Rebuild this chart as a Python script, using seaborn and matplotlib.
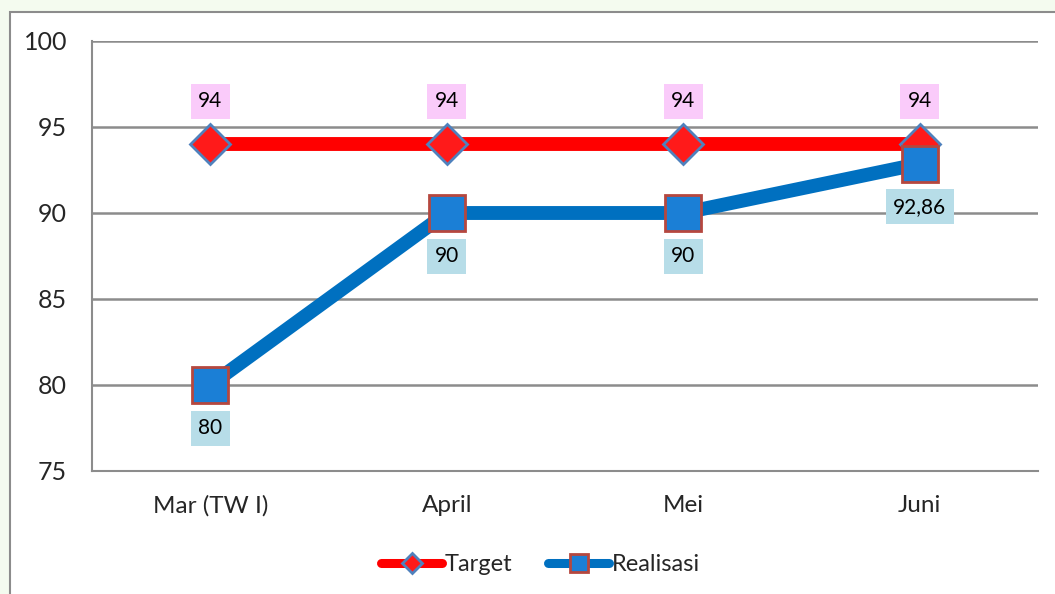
import pandas as pd
import seaborn as sns
import matplotlib.pyplot as plt
from matplotlib.patches import Rectangle

# data
bulan = ['Mar (TW I)', 'April', 'Mei', 'Juni']
target = [94, 94, 94, 94]
realisasi = [80, 90, 90, 92.86]
label_target = ['94', '94', '94', '94']
label_realisasi = ['80', '90', '90', '92,86']

df = pd.DataFrame({'bulan': bulan, 'Target': target, 'Realisasi': realisasi})

sns.set_style('white')
plt.rcParams['font.family'] = ['Lato', 'DejaVu Sans']

fig = plt.figure(figsize=(10.55, 5.94), dpi=100, facecolor='#f4fbef')
# white chart area with grey frame
fig.patches.append(Rectangle((10 / 1055, -0.1), 1.2, 1 - 12 / 594 + 0.1,
                             transform=fig.transFigure, facecolor='white',
                             edgecolor='#8c8c8c', linewidth=1.5, zorder=-5))
ax = fig.add_axes([92 / 1055, 1 - 471 / 594, (1038 - 92) / 1055, (471 - 41) / 594])
ax.set_zorder(2)
ax.set_facecolor('none')

sns.lineplot(data=df, x='bulan', y='Target', ax=ax, color='#ff0000', linewidth=10,
             marker='D', markersize=20, markerfacecolor='#ff1a1a',
             markeredgecolor='#4f81bd', markeredgewidth=2, label='Target',
             solid_capstyle='round', zorder=3)
sns.lineplot(data=df, x='bulan', y='Realisasi', ax=ax, color='#0070c0', linewidth=10,
             marker='s', markersize=26, markerfacecolor='#1b7fd6',
             markeredgecolor='#b5473f', markeredgewidth=2, label='Realisasi',
             solid_capstyle='round', zorder=4)

for i, t in enumerate(label_target):
    ax.annotate(t, (i, target[i]), xytext=(0, 31), textcoords='offset points',
                ha='center', va='center', fontsize=15, color='black',
                bbox=dict(boxstyle='square,pad=0.36', fc='#facbfa', ec='none'),
                zorder=6)
for i, t in enumerate(label_realisasi):
    ax.annotate(t, (i, realisasi[i]), xytext=(0, -31), textcoords='offset points',
                ha='center', va='center', fontsize=15, color='black',
                bbox=dict(boxstyle='square,pad=0.36', fc='#b7dde8', ec='none'),
                zorder=6)

ax.set_xlim(-0.5, 3.5)
ax.set_ylim(75, 100)
ax.set_yticks([75, 80, 85, 90, 95, 100])
ax.grid(axis='y', color='#8c8c8c', linewidth=1.8, zorder=1)
ax.set_axisbelow(True)
for s in ['top', 'right']:
    ax.spines[s].set_visible(False)
for s in ['left', 'bottom']:
    ax.spines[s].set_color('#8c8c8c')
    ax.spines[s].set_linewidth(1.5)
ax.tick_params(axis='y', labelsize=18, pad=18, length=0)
ax.tick_params(axis='x', labelsize=17.5, pad=17, length=0)
ax.set_xlabel('')
ax.set_ylabel('')

leg = ax.legend(loc='center', bbox_to_anchor=(0.474, -0.218), ncol=2, frameon=False,
                fontsize=17, handlelength=2.6, handletextpad=0.1, columnspacing=1.5,
                numpoints=1)
for h in leg.get_lines():
    h.set_linewidth(6.5)
    h.set_markersize(10 if h.get_marker() == 'D' else 13)

fig.savefig('out.png', dpi=100, facecolor=fig.get_facecolor())
